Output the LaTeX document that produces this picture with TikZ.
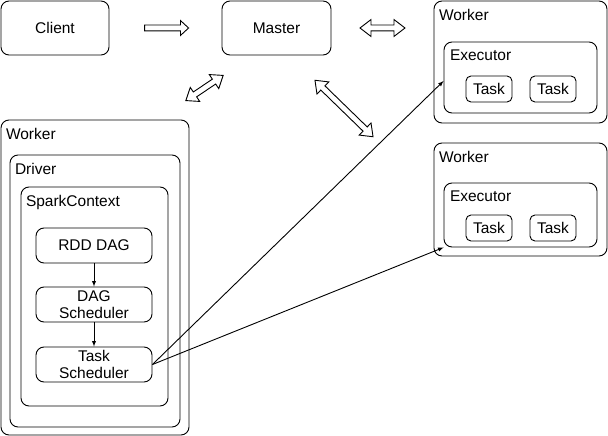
\documentclass[tikz,border=0pt]{standalone}
\usepackage{fontspec}
\setmainfont{Liberation Sans}
\usetikzlibrary{shapes.arrows}

\begin{document}
\begin{tikzpicture}[x=1pt,y=-1pt,line width=0.9pt,
  font=\fontsize{15.5}{17.3}\selectfont,
  box/.style={draw,rounded corners=8pt,inner sep=0pt,align=center},
  taskbox/.style={draw,rounded corners=5pt,inner sep=0pt,minimum width=46pt,minimum height=26pt},
  cont/.style={draw,rounded corners=8pt,inner sep=0pt},
  tag/.style={anchor=base west,inner sep=0pt},
  hollow/.style={single arrow,draw,fill=white,inner sep=2.5pt,single arrow head extend=4.5pt,single arrow tip angle=85},
  hollowdbl/.style={double arrow,draw,fill=white,inner sep=2.5pt,double arrow head extend=5.5pt,double arrow tip angle=75}]
\useasboundingbox (0,0) rectangle (608,436);

\node[box,minimum width=108pt,minimum height=54pt] (client) at (55,28) {Client};
\node[box,minimum width=109pt,minimum height=54pt] (master) at (276.5,28) {Master};

% left worker with driver
\node[cont,minimum width=188pt,minimum height=315pt] (w0) at (95,277.5) {};
\node[tag] (w0l) at ([xshift=5pt,yshift=-19.5pt]w0.north west) {Worker};
\node[cont,minimum width=170pt,minimum height=272pt] (drv) at (95,291) {};
\node[tag] (drvl) at ([xshift=5pt,yshift=-20pt]drv.north west) {Driver};
\node[cont,minimum width=147pt,minimum height=219pt] (sc) at (94.5,296.5) {};
\node[tag] (scl) at ([xshift=5pt,yshift=-20pt]sc.north west) {SparkContext};
\node[box,minimum width=116pt,minimum height=35pt] (rdd) at (94,245.5) {RDD DAG};
\node[box,minimum width=116pt,minimum height=35pt] (dag) at (94,304.5) {DAG\\Scheduler};
\node[box,minimum width=116pt,minimum height=35pt] (tsch) at (94,364.5) {Task\\Scheduler};

% right workers
\node[cont,minimum width=173pt,minimum height=122pt] (w1) at (520.5,62) {};
\node[tag] (w1l) at ([xshift=5pt,yshift=-19.5pt]w1.north west) {Worker};
\node[cont,minimum width=153pt,minimum height=71pt] (ex1) at (520.5,77.5) {};
\node[tag] (ex1l) at ([xshift=6pt,yshift=-19pt]ex1.north west) {Executor};
\node[taskbox] (t11) at (489,89) {Task};
\node[taskbox] (t12) at (553,89) {Task};

\node[cont,minimum width=173pt,minimum height=113pt] (w2) at (520.5,199.5) {};
\node[tag] (w2l) at ([xshift=5pt,yshift=-19.5pt]w2.north west) {Worker};
\node[cont,minimum width=153pt,minimum height=64pt] (ex2) at (520.5,215) {};
\node[tag] (ex2l) at ([xshift=6pt,yshift=-19pt]ex2.north west) {Executor};
\node[taskbox] (t21) at (489,228) {Task};
\node[taskbox] (t22) at (553,228) {Task};

% hollow arrows
\node[hollow,minimum height=44pt] (cm) at (165,28) {};
\node[hollowdbl,minimum height=45pt] (mw1) at (382.5,28) {};
\node[hollowdbl,minimum height=45pt,rotate=34] (mw0) at (204.5,88) {};
\node[hollowdbl,minimum height=81pt,rotate=-44.2] (mw2) at (344,108.5) {};

\draw[-latex] (rdd) -- (dag);
\draw[-latex] (dag) -- (tsch);
\draw[-latex] (tsch.east) -- ([yshift=-3.5pt]ex1.west);
\draw[-latex] (tsch.east) -- (ex2.south west);
\end{tikzpicture}
\end{document}
